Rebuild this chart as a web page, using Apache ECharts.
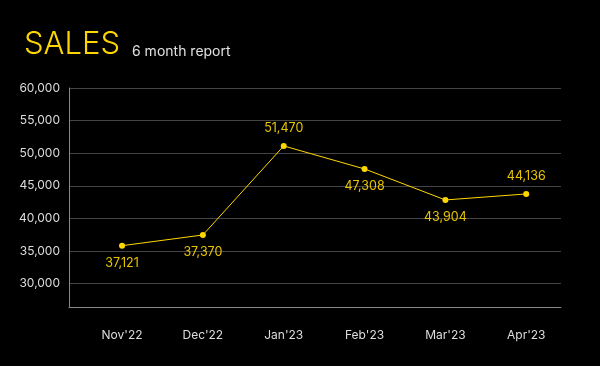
<!DOCTYPE html>
<html>
<head>
<meta charset="utf-8">
<script src="https://cdn.jsdelivr.net/npm/echarts@6/dist/echarts.min.js"></script>
<style>html,body{margin:0;padding:0;background:#000;}#c{width:600px;height:366px;}</style>
</head>
<body>
<div id="c"></div>
<script>
const categories = ["Nov'22", "Dec'22", "Jan'23", "Feb'23", "Mar'23", "Apr'23"];
const values = [35830, 37470, 51120, 47590, 42840, 43760];
const valueLabels = ["37,121", "37,370", "51,470", "47,308", "43,904", "44,136"];
const labelPlacement = ["bottom", "bottom", "top", "bottom", "bottom", "top"];
const yTicks = [30000, 35000, 40000, 45000, 50000, 55000, 60000];

const chart = echarts.init(document.getElementById('c'), null, {renderer: 'canvas'});
const yellow = '#FFD700';
const font = 'Inter, "Noto Sans", sans-serif';

chart.setOption({
  backgroundColor: '#000',
  animation: false,
  title: [
    {text: 'SALES', left: 24, top: 29, padding: 0, textStyle: {color: yellow, fontSize: 31, fontWeight: 300, fontFamily: font, letterSpacing: 2.2}},
    {text: '6 month report', left: 132, top: 45, padding: 0, textStyle: {color: '#e0e0e0', fontSize: 14, fontWeight: 400, fontFamily: font}}
  ],
  grid: {left: 69, right: 39, top: 88, bottom: 59, containLabel: false},
  xAxis: {
    type: 'value',
    min: -0.656, max: 5.43,
    axisLine: {show: true, onZero: false, lineStyle: {color: '#888', width: 1}},
    axisTick: {show: false},
    splitLine: {show: false},
    axisLabel: {
      customValues: categories.map((c, i) => i),
      formatter: v => categories[Math.round(v)],
      color: '#ddd', fontSize: 12, fontFamily: font, margin: 22
    }
  },
  yAxis: {
    type: 'value',
    min: 26430, max: 60000,
    axisLine: {show: true, onZero: false, lineStyle: {color: '#888', width: 1}},
    axisTick: {show: false, customValues: yTicks},
    splitLine: {show: true, lineStyle: {color: '#444', width: 1}},
    axisLabel: {
      customValues: yTicks,
      formatter: v => v.toLocaleString('en-US'),
      color: '#ddd', fontSize: 12, fontFamily: font, margin: 9
    }
  },
  series: [{
    type: 'line',
    data: values.map((v, i) => ({
      value: [i, v],
      label: {position: labelPlacement[i], formatter: valueLabels[i]}
    })),
    symbol: 'circle', symbolSize: 6,
    itemStyle: {color: yellow},
    lineStyle: {color: yellow, width: 1},
    label: {show: true, color: '#e8c400', fontSize: 12.5, fontFamily: font, distance: 8}
  }]
});
</script>
</body>
</html>
